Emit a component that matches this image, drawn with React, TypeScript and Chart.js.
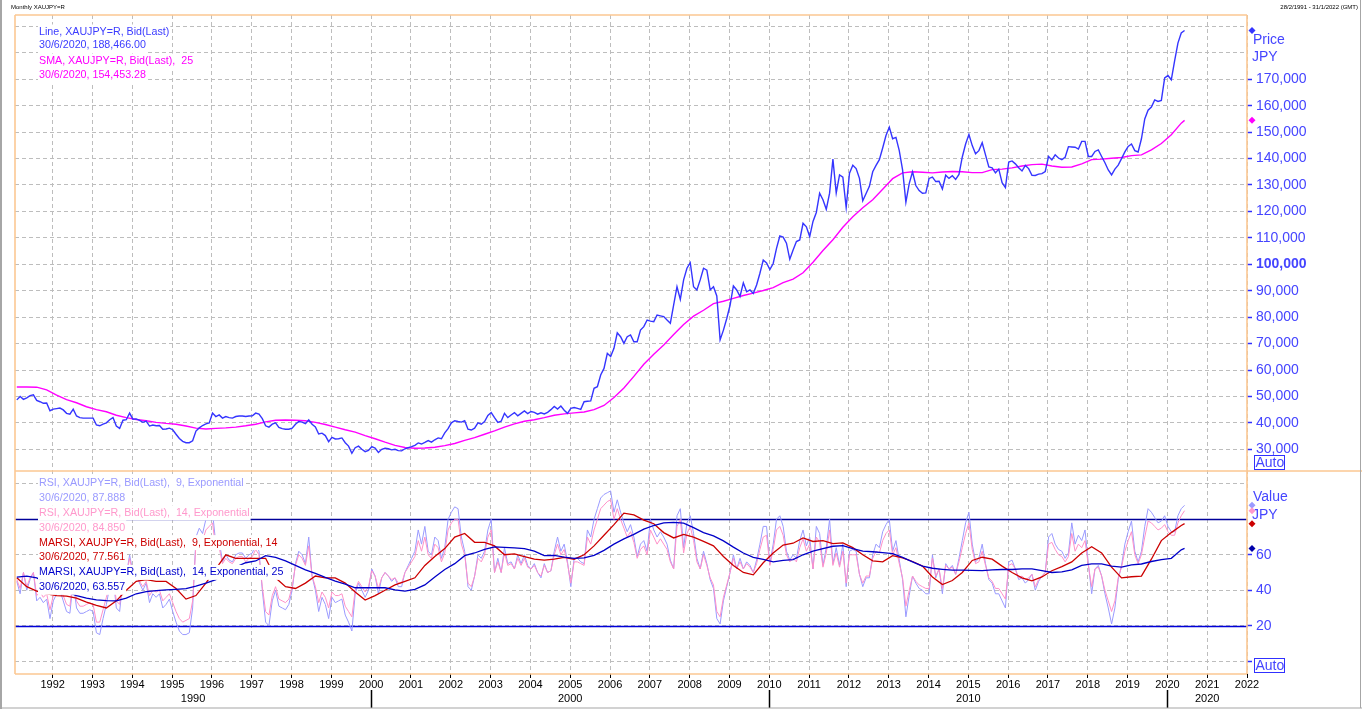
import React, { useEffect, useRef } from 'react';
import { Chart, registerables } from 'chart.js';

Chart.register(...registerables);

const FONT = '"Liberation Sans", Arial, Helvetica, sans-serif';

// ---------- time axis ----------
const firstYear = 1991;
const firstMonth = 2; // first monthly point: Feb 1991
const lastDateLabel = '30/6/2020';
const headerLeft = 'Monthly XAUJPY=R';
const headerRight = '28/2/1991 - 31/1/2022 (GMT)';
const xMin = 1991.053;
const xMax = 2022;
const yearTicks = [1992, 1993, 1994, 1995, 1996, 1997, 1998, 1999, 2000, 2001, 2002, 2003, 2004, 2005, 2006, 2007, 2008, 2009, 2010, 2011, 2012, 2013, 2014, 2015, 2016, 2017, 2018, 2019, 2020, 2021, 2022];
const decadeLabels = [1990, 2000, 2010, 2020];

// ---------- price panel ----------
const priceTicks = [30000, 40000, 50000, 60000, 70000, 80000, 90000, 100000, 110000, 120000, 130000, 140000, 150000, 160000, 170000, 180000, 190000];
const priceLabelMax = 170000;

// monthly close, JPY (Feb 1991 .. Jun 2020)
const priceJPY = [
  48700, 50000, 48900, 49500, 50300, 50600, 48500, 48000, 47400, 47500, 44600,
  45200, 45400, 45600, 44900, 43600, 43300, 45200, 42600, 42000, 41800, 41800, 41800,
  41800, 39200, 38900, 39500, 40000, 41200, 42000, 38800, 37900, 41000, 41200, 43700,
  41400, 41500, 40900, 40200, 40700, 38800, 39200, 38900, 39000, 37600, 37700, 38000,
  37400, 35700, 34100, 33000, 32500, 32500, 33200, 36900, 38100, 39000, 39600, 40000,
  43700, 42400, 43000, 41800, 42400, 42000, 41800, 42400, 42600, 42600, 42400, 42600,
  42700, 43700, 43300, 41600, 38900, 38400, 39500, 40000, 38300, 37800, 37600, 37600,
  38000, 39500, 40500, 40300, 39700, 41100, 39500, 38500, 35800, 36100, 35200, 32900,
  34500, 33900, 34000, 34300, 32500, 31200, 28500, 30600, 31200, 30000, 29100, 29600,
  31000, 30500, 28800, 30000, 30400, 30200, 29800, 30000, 29500, 29400, 30200, 30600,
  31000, 31500, 32400, 32000, 32600, 33300, 32700, 33600, 34300, 34000, 36200, 37800,
  40000, 40800, 40500, 40300, 40800, 37600, 37300, 38000, 40000, 39500, 40500, 42800,
  43900, 42000, 40200, 40600, 43600, 42000, 43000, 43900, 42700, 43600, 44500, 43500,
  44300, 44000, 43300, 43800, 43400, 44000, 45000, 46200, 45200, 46400, 44800, 43600,
  45500, 45800, 45500, 45100, 48000, 48200, 48300, 53100, 53700, 58100, 60600, 66300,
  65100, 68200, 74100, 72600, 70100, 72600, 73300, 70700, 70700, 75100, 76400, 78900,
  78500, 78300, 80800, 80500, 80200, 78900, 77700, 84600, 91500, 86700, 94100, 98500,
  100600, 91500, 90300, 94100, 98500, 97800, 90300, 91500, 88000, 71400, 75100, 79500,
  84500, 91800, 90300, 87800, 93000, 89600, 90300, 89000, 92200, 96600, 101600, 100500,
  98000, 100300, 106000, 110700, 110300, 108000, 101900, 105400, 108600, 109200, 115500, 114200,
  110500, 116200, 119600, 126900, 124400, 120800, 126900, 139800, 127000, 133800, 133000, 121500,
  134500, 137500, 136200, 132500, 124000, 126800, 129500, 135000, 137400, 139600, 144000, 148700,
  151900, 147500, 148000, 143000, 135700, 123500, 130500, 135000, 129800, 127900, 126900, 127000,
  132500, 133000, 131300, 131400, 128500, 133700, 132500, 133500, 132100, 134000, 140600, 145500,
  149100, 144900, 141800, 143000, 146000, 141400, 136800, 136500, 134600, 136000, 130900, 129000,
  138700, 139100, 138000, 136500, 135300, 137400, 136200, 133700, 133600, 134100, 134300, 135100,
  140800, 139500, 141400, 140200, 139600, 140500, 144500, 144400, 144300, 143600, 146500, 146500,
  140800, 140800, 142700, 143300, 140800, 138400, 135700, 133800, 136000, 137500, 140000, 142500,
  144600, 145500, 143000, 142500, 147500, 155000, 158300, 159500, 162200, 161600, 162000, 170500,
  171400, 169800, 177000, 183700, 187500, 188466,
];

// SMA 25, read every third month (Feb/May/Aug/Nov), last value = Jun 2020
const sma25JPY = [
  53600, 53600, 53500, 52500,
  50500, 48800, 47600, 46100,
  45000, 44200, 42900, 42000,
  41300, 40800, 40200, 39800,
  39500, 38800, 38000, 37700,
  37900, 38100, 38400, 38900,
  39500, 40400, 41000, 41100,
  41000, 40800, 40200, 39400,
  38400, 37400, 36500, 35200,
  34000, 32700, 31500, 30700,
  30400, 30500, 30800, 31400,
  32200, 33400, 34400, 35700,
  37000, 38400, 39600, 40600,
  41200, 42000, 42900, 43400,
  43800, 44100, 45000, 46600,
  49600, 53200, 57600, 62200,
  66000, 69500, 73400, 77200,
  80400, 82600, 85100, 86000,
  87100, 88200, 89100, 90100,
  91200, 93100, 94400, 96800,
  100800, 105200, 109300, 114000,
  118000, 121400, 124400, 128400,
  132400, 134600, 135000, 134800,
  134600, 134900, 135100, 135000,
  134700, 134700, 135800, 136000,
  136500, 137200, 137700, 137900,
  137200, 136700, 136800, 138000,
  139600, 139800, 140100, 140400,
  141100, 141400, 143300, 145700,
  149000, 153400, 154453.28,
];

// ---------- RSI panel ----------
const rsiTicks = [0, 20, 40, 60, 80, 100];
const rsiLabelled = [20, 40, 60];
const rsiTickMarks = [0, 20, 40, 60];
const rsiBands = [80, 20];

// RSI 9 exponential, monthly
const rsi9 = [
  45, 38, 50, 40, 46, 50, 34, 36, 33, 35, 24,
  34, 38, 40, 34, 28, 27, 45, 30, 27, 27, 28, 29,
  28, 16, 15, 24, 32, 42, 48, 30, 28, 46, 48, 60,
  50, 49, 44, 40, 44, 33, 38, 36, 38, 30, 32, 35,
  28, 22, 17, 15, 15, 16, 30, 70, 75, 72, 80, 82,
  84, 66, 68, 56, 60, 57, 56, 60, 61, 61, 58, 60,
  61, 66, 62, 40, 22, 20, 34, 40, 31, 30, 29, 32,
  40, 55, 62, 60, 55, 70, 48, 40, 28, 36, 32, 24,
  36, 33, 34, 35, 26, 22, 17, 38, 44, 40, 36, 40,
  52, 48, 38, 47, 50, 48, 45, 47, 42, 42, 50, 54,
  58, 62, 74, 66, 76, 62, 60, 70, 68, 58, 64, 80,
  84, 87, 86, 70, 62, 42, 40, 48, 60, 58, 62, 74,
  80, 50, 58, 50, 64, 55, 56, 52, 60, 55, 60, 54,
  52, 55, 50, 47, 55, 50, 51, 62, 70, 62, 66, 56,
  42, 58, 58, 56, 55, 74, 70, 80, 86, 92, 94, 95,
  96, 84, 91, 84, 78, 73, 77, 70, 59, 66, 68, 62,
  80, 74, 70, 73, 70, 66, 57, 52, 82, 86, 64, 78,
  82, 72, 58, 52, 62, 55, 46, 41, 24, 21, 34, 42,
  50, 60, 52, 58, 52, 56, 54, 50, 57, 66, 76, 76,
  55, 66, 80, 82, 76, 62, 57, 60, 58, 68, 74, 65,
  70, 52, 76, 72, 54, 64, 80, 55, 64, 54, 66, 42,
  62, 63, 62, 49, 42, 47, 47, 60, 66, 64, 73, 77,
  80, 62, 68, 57, 46, 25, 37, 48, 44, 41, 40, 38,
  38, 60, 47, 52, 38, 55, 52, 54, 49, 58, 68, 78,
  84, 66, 56, 58, 66, 55, 46, 44, 38, 38, 34, 30,
  56, 57, 52, 46, 47, 44, 46, 49, 40, 45, 48, 50,
  70, 72, 66, 63, 62, 58, 61, 78, 66, 71, 68, 74,
  55, 38, 52, 54, 48, 38, 30, 21, 30, 46, 54, 66,
  73, 79, 62, 56, 62, 76, 86, 84, 81, 78, 79, 82,
  76, 73, 73, 82, 86, 87.888,
];

// RSI 14 exponential, monthly
const rsi14 = [
  46, 41, 50, 42, 47, 50, 37, 39, 36, 38, 29,
  37, 40, 42, 37, 32, 31, 46, 34, 31, 31, 32, 33,
  32, 22, 22, 29, 36, 43, 48, 34, 32, 46, 48, 58,
  50, 49, 45, 42, 45, 37, 40, 39, 40, 34, 36, 38,
  33, 28, 24, 22, 23, 24, 34, 66, 70, 68, 74, 76,
  78, 63, 64, 55, 58, 56, 55, 58, 59, 59, 56, 58,
  59, 63, 60, 42, 28, 26, 37, 42, 35, 34, 33, 35,
  42, 54, 60, 58, 54, 65, 48, 42, 33, 39, 36, 30,
  39, 37, 37, 38, 31, 28, 25, 40, 45, 42, 39, 42,
  51, 48, 41, 47, 50, 48, 46, 47, 44, 44, 50, 53,
  56, 59, 68, 62, 70, 60, 58, 66, 64, 56, 61, 74,
  78, 80, 80, 66, 60, 44, 42, 48, 58, 56, 60, 70,
  74, 50, 56, 50, 61, 54, 55, 52, 58, 54, 58, 53,
  52, 54, 50, 48, 54, 50, 51, 60, 66, 60, 63, 55,
  44, 56, 56, 55, 54, 70, 66, 74, 80, 86, 88, 90,
  91, 80, 86, 80, 75, 70, 73, 67, 58, 63, 65, 60,
  74, 70, 66, 69, 66, 63, 56, 52, 76, 80, 61, 72,
  76, 68, 56, 52, 60, 54, 47, 43, 28, 25, 36, 43,
  50, 58, 52, 56, 52, 55, 53, 50, 55, 63, 70, 71,
  54, 63, 74, 76, 71, 60, 56, 58, 56, 64, 69, 62,
  66, 52, 70, 67, 53, 61, 74, 54, 61, 53, 62, 44,
  60, 60, 60, 49, 44, 48, 48, 58, 62, 61, 68, 72,
  74, 60, 64, 55, 47, 31, 40, 48, 45, 43, 42, 41,
  41, 58, 48, 52, 41, 54, 52, 53, 49, 56, 64, 72,
  78, 63, 55, 56, 62, 54, 47, 45, 41, 41, 38, 35,
  54, 55, 52, 47, 48, 46, 47, 49, 42, 46, 48, 50,
  66, 67, 63, 60, 59, 56, 59, 72, 62, 66, 64, 68,
  54, 42, 52, 53, 48, 40, 34, 28, 34, 47, 53, 62,
  68, 73, 60, 55, 60, 70, 79, 78, 76, 74, 75, 77,
  73, 71, 71, 78, 82, 84.85,
];

// MARSI 9/14, read every third month (Feb/May/Aug/Nov), last value = Jun 2020
const marsi9 = [
  47, 42, 39.5, 38,
  37, 36.7, 35.5, 33.3,
  31.5, 30, 34, 40,
  45, 46, 45, 45,
  41, 35, 37, 44,
  52, 60, 58, 58,
  58, 58, 47, 42,
  41, 44, 48, 47,
  47, 44, 39, 34.5,
  37, 40, 43, 45,
  47, 54, 59, 63.5,
  70, 72, 67, 67,
  65, 60, 60.5, 59,
  57.5, 57, 57.5, 58.5,
  57.5, 60, 65, 71,
  77, 83.5, 82.5, 79.5,
  77.5, 72.5, 69.5, 71.5,
  70, 67.5, 65, 59,
  54, 50, 48.7, 55.5,
  61, 65.5, 66.5, 69.5,
  67.5, 68, 66.3, 66.7,
  64, 60, 56.6, 56,
  59.5, 58.3, 56.2, 53.6,
  47.5, 43.2, 45.5, 50,
  56.8, 58.6, 57.5, 53.6,
  50, 47, 45.3, 47.5,
  51, 53.3, 56, 61,
  64.5, 61, 53, 47,
  47.6, 48, 57.5, 68,
  72.5, 76.5, 77.561,
];

const marsi14 = [
  47.4, 48, 47, 44,
  41, 39, 37, 35.5,
  34.6, 34.1, 34, 35.5,
  38, 39.2, 39.8, 40.2,
  40.5, 40.9, 42.3, 44,
  46, 50, 53, 55.5,
  56.5, 59.5, 58.5, 56.5,
  54, 51.5, 49.5, 47.2,
  45.2, 43.5, 41.4, 41.4,
  41.4, 41.4, 40.2, 39.5,
  40.5, 43, 47.5, 51.7,
  55, 59.5, 61, 63,
  64.5, 64.2, 63.9, 63.5,
  62, 59.5, 59.6, 58.7,
  58, 58.2, 59.7, 62.5,
  66, 69, 71.5, 74.5,
  76.5, 78, 78.3, 77.8,
  75.3, 72.5, 70.6, 67.8,
  64.3, 61, 58.5, 57.4,
  56, 56.8, 57.3, 60,
  62, 63.5, 64.8, 65.2,
  63.5, 62, 61.7, 61.2,
  60.7, 58.5, 56, 53.6,
  52.4, 51.8, 51.3, 51.3,
  51.2, 51.1, 51.5, 51.7,
  51.7, 52.1, 52, 51,
  50, 50.3, 51.5, 54,
  54.9, 54.9, 53.6, 53,
  54.3, 54.8, 56.2, 57.3,
  58, 62.8, 63.557,
];

// ---------- colours ----------
const C_PRICE = '#3535ff';
const C_SMA = '#ff00ff';
const C_RSI9 = '#9a9aff';
const C_RSI14 = '#ff90c8';
const C_MARSI9 = '#cc0000';
const C_MARSI14 = '#0000c8';
const C_AXIS = '#4545ff';
const C_GRID = '#bdbdbd';
const C_FRAME = '#fcc893';

const monthX = (i: number) => firstYear + (firstMonth - 1 + i) / 12 + 0.015;
const lastIdx = priceJPY.length - 1;
const quarterX = (i: number) => monthX(Math.min(i * 3, lastIdx));
const monthly = (arr: number[]) => arr.map((v, i) => ({ x: monthX(i), y: v }));
const quarterly = (arr: number[]) => arr.map((v, i) => ({ x: quarterX(i), y: v }));
const last = (a: number[]) => a[a.length - 1];
const fmt2 = (v: number) => v.toLocaleString('en-US', { minimumFractionDigits: 2, maximumFractionDigits: 2 });

const topLegend = [
  { text: 'Line, XAUJPY=R, Bid(Last)', color: '#3c3cff', y: 32 },
  { text: `${lastDateLabel}, ${fmt2(last(priceJPY))}`, color: '#3c3cff', y: 45.5 },
  { text: 'SMA, XAUJPY=R, Bid(Last),  25', color: '#ff00ff', y: 61 },
  { text: `${lastDateLabel}, ${fmt2(last(sma25JPY))}`, color: '#ff00ff', y: 75 },
];
const lowLegend = [
  { text: 'RSI, XAUJPY=R, Bid(Last),  9, Exponential', color: '#9a9aff' },
  { text: `${lastDateLabel}, ${last(rsi9).toFixed(3)}`, color: '#9a9aff' },
  { text: 'RSI, XAUJPY=R, Bid(Last),  14, Exponential', color: '#ff99cc' },
  { text: `${lastDateLabel}, ${last(rsi14).toFixed(3)}`, color: '#ff99cc' },
  { text: 'MARSI, XAUJPY=R, Bid(Last),  9, Exponential, 14', color: '#cc0000' },
  { text: `${lastDateLabel}, ${last(marsi9).toFixed(3)}`, color: '#cc0000' },
  { text: 'MARSI, XAUJPY=R, Bid(Last),  14, Exponential, 25', color: '#0000cc' },
  { text: `${lastDateLabel}, ${last(marsi14).toFixed(3)}`, color: '#0000cc' },
];

function drawLegend(ctx: CanvasRenderingContext2D, x: number, rows: { text: string; color: string; y: number }[]) {
  ctx.font = `10.7px ${FONT}`;
  ctx.textBaseline = 'middle';
  ctx.textAlign = 'left';
  ctx.fillStyle = '#ffffff';
  for (const r of rows) {
    const w = ctx.measureText(r.text).width;
    ctx.fillRect(x - 1, r.y - 7.5, w + 2, 15);
  }
  for (const r of rows) {
    ctx.fillStyle = r.color;
    ctx.fillText(r.text, x, r.y);
  }
}

function diamond(ctx: CanvasRenderingContext2D, x: number, y: number, color: string) {
  ctx.fillStyle = color;
  ctx.beginPath();
  ctx.moveTo(x, y - 3.5);
  ctx.lineTo(x + 3.5, y);
  ctx.lineTo(x, y + 3.5);
  ctx.lineTo(x - 3.5, y);
  ctx.closePath();
  ctx.fill();
}

const overlayPlugin = {
  id: 'overlay',
  beforeDatasetsDraw(chart: any) {
    const { ctx, chartArea } = chart;
    const r = chart.scales.y2;
    ctx.save();
    ctx.lineWidth = 1.3;
    rsiBands.forEach((v, i) => {
      const y = Math.round(r.getPixelForValue(v)) + 0.5;
      ctx.strokeStyle = i === 0 ? '#00009a' : '#0000d8';
      ctx.beginPath();
      ctx.moveTo(chartArea.left, y);
      ctx.lineTo(chartArea.right, y);
      ctx.stroke();
    });
    ctx.restore();
  },
  afterDatasetsDraw(chart: any) {
    const { ctx, chartArea, width, height } = chart;
    const xs = chart.scales.x;
    const ys = chart.scales.y;
    const rs = chart.scales.y2;
    ctx.save();

    // legends with white backgrounds
    drawLegend(ctx, 39, topLegend);
    drawLegend(ctx, 39, lowLegend.map((r, i) => ({ ...r, y: 483 + i * 14.9 })));

    // orange panel frames
    ctx.strokeStyle = C_FRAME;
    ctx.lineWidth = 1.6;
    ctx.beginPath();
    ctx.moveTo(chartArea.left, chartArea.top);
    ctx.lineTo(chartArea.right, chartArea.top);
    ctx.moveTo(chartArea.left, chartArea.top);
    ctx.lineTo(chartArea.left, chartArea.bottom);
    ctx.moveTo(chartArea.right, chartArea.top);
    ctx.lineTo(chartArea.right, chartArea.bottom);
    ctx.moveTo(chartArea.left, chartArea.bottom);
    ctx.lineTo(chartArea.right, chartArea.bottom);
    ctx.moveTo(chartArea.left, ys.bottom);
    ctx.lineTo(width, ys.bottom);
    ctx.stroke();

    // last-value diamonds
    const dx = chartArea.right + 5;
    diamond(ctx, dx, ys.getPixelForValue(last(priceJPY)), '#3535ff');
    diamond(ctx, dx, ys.getPixelForValue(last(sma25JPY)), '#ff00ff');
    diamond(ctx, dx, rs.getPixelForValue(last(rsi9)), '#9a9aff');
    diamond(ctx, dx, rs.getPixelForValue(last(rsi14)), '#ff99cc');
    diamond(ctx, dx, rs.getPixelForValue(last(marsi9)), '#cc0000');
    diamond(ctx, dx, rs.getPixelForValue(last(marsi14)), '#0000aa');

    // axis titles
    ctx.font = `14px ${FONT}`;
    ctx.fillStyle = C_AXIS;
    ctx.textAlign = 'left';
    ctx.textBaseline = 'middle';
    ctx.fillText('Price', chartArea.right + 6, 40);
    ctx.fillText('JPY', chartArea.right + 5, 57.5);
    ctx.fillText('Value', chartArea.right + 6, 497);
    ctx.fillText('JPY', chartArea.right + 5, 515);

    // Auto boxes
    const autoBox = (yTop: number) => {
      ctx.strokeStyle = '#3030ff';
      ctx.lineWidth = 1;
      ctx.strokeRect(chartArea.right + 7.5, yTop + 0.5, 30, 14);
      ctx.fillStyle = C_AXIS;
      ctx.fillText('Auto', chartArea.right + 8.5, yTop + 8);
    };
    autoBox(ys.bottom - 16);
    autoBox(rs.bottom - 16);

    // header
    ctx.font = `6px ${FONT}`;
    ctx.fillStyle = '#000';
    ctx.textAlign = 'left';
    ctx.fillText(headerLeft, 11, 7);
    ctx.textAlign = 'right';
    ctx.fillText(headerRight, 1358, 7);

    // decade labels and long separators
    ctx.font = `11px ${FONT}`;
    ctx.textAlign = 'center';
    ctx.fillStyle = '#000';
    decadeLabels.forEach((d) => {
      const a = Math.max(d, xs.min);
      const b = Math.min(d + 10, xs.max);
      const xa = xs.getPixelForValue(a);
      const xb = xs.getPixelForValue(b);
      ctx.fillText(String(d), (xa + xb) / 2, 699);
      if (d > xs.min) {
        const x = Math.round(xa) + 0.5;
        ctx.strokeStyle = '#000';
        ctx.lineWidth = 1.5;
        ctx.beginPath();
        ctx.moveTo(x, 690);
        ctx.lineTo(x, 708);
        ctx.stroke();
      }
    });

    // window border
    ctx.fillStyle = '#a6a6a6';
    ctx.fillRect(0, 0, 2, height - 1);
    ctx.fillRect(0, height - 2.5, width, 1);
    ctx.fillRect(width - 2, 0, 1, height - 2);

    ctx.restore();
  },
};

export default function App() {
  const ref = useRef<HTMLCanvasElement>(null);

  useEffect(() => {
    const canvas = ref.current;
    if (!canvas) return;
    const dash = [4, 3];
    const chart = new Chart(canvas, {
      type: 'line',
      data: {
        datasets: [
          { label: 'Line', data: monthly(priceJPY), yAxisID: 'y', borderColor: C_PRICE, borderWidth: 1.4, pointRadius: 0, tension: 0 },
          { label: 'SMA 25', data: quarterly(sma25JPY), yAxisID: 'y', borderColor: C_SMA, borderWidth: 1.4, pointRadius: 0, tension: 0 },
          { label: 'MARSI 14', data: quarterly(marsi14), yAxisID: 'y2', borderColor: C_MARSI14, borderWidth: 1.3, pointRadius: 0, tension: 0 },
          { label: 'MARSI 9', data: quarterly(marsi9), yAxisID: 'y2', borderColor: C_MARSI9, borderWidth: 1.3, pointRadius: 0, tension: 0 },
          { label: 'RSI 14', data: monthly(rsi14), yAxisID: 'y2', borderColor: C_RSI14, borderWidth: 1, pointRadius: 0, tension: 0 },
          { label: 'RSI 9', data: monthly(rsi9), yAxisID: 'y2', borderColor: C_RSI9, borderWidth: 1, pointRadius: 0, tension: 0 },
        ] as any,
      },
      options: {
        animation: false,
        responsive: false,
        events: [],
        layout: { padding: { left: 15, top: 15, right: 0, bottom: 0 } },
        plugins: { legend: { display: false }, tooltip: { enabled: false } },
        scales: {
          x: {
            type: 'linear',
            axis: 'x',
            position: 'bottom',
            min: xMin,
            max: xMax,
            afterBuildTicks: (s: any) => { s.ticks = yearTicks.map((v) => ({ value: v })); },
            afterFit: (s: any) => { s.height = 36; },
            grid: { color: C_GRID, lineWidth: 1, tickColor: '#000', tickLength: 4, tickWidth: 1 },
            border: { display: false, dash },
            ticks: {
              autoSkip: false,
              maxRotation: 0,
              padding: 0,
              color: '#000',
              font: { family: FONT, size: 11 },
              callback: (v: any) => String(v),
            },
          },
          y: {
            type: 'linear',
            axis: 'y',
            position: 'right',
            stack: 'panels',
            stackWeight: 456,
            min: 21790,
            max: 194320,
            afterBuildTicks: (s: any) => { s.ticks = priceTicks.map((v) => ({ value: v })); },
            afterFit: (s: any) => { s.width = 115; },
            grid: {
              color: C_GRID,
              lineWidth: 1,
              tickLength: 5,
              tickWidth: 1.5,
              tickColor: (c: any) => (c.tick && c.tick.value > priceLabelMax ? 'rgba(0,0,0,0)' : '#3030ff'),
            },
            border: { display: false, dash },
            ticks: {
              autoSkip: false,
              padding: 4,
              color: C_AXIS,
              font: (c: any) => ({ family: FONT, size: 14, weight: c.tick && c.tick.value === 100000 ? 'bold' : 'normal' }),
              callback: (v: any) => (v > priceLabelMax ? '' : Number(v).toLocaleString('en-US')),
            },
          },
          y2: {
            type: 'linear',
            axis: 'y',
            position: 'right',
            stack: 'panels',
            stackWeight: 203,
            min: -7.24,
            max: 107.24,
            afterBuildTicks: (s: any) => { s.ticks = rsiTicks.map((v) => ({ value: v })); },
            afterFit: (s: any) => { s.width = 115; },
            grid: {
              color: C_GRID,
              lineWidth: 1,
              tickLength: 5,
              tickWidth: 1.5,
              tickColor: (c: any) => (c.tick && rsiTickMarks.includes(c.tick.value) ? '#3030ff' : 'rgba(0,0,0,0)'),
            },
            border: { display: false, dash },
            ticks: {
              autoSkip: false,
              padding: 4,
              color: C_AXIS,
              font: { family: FONT, size: 14 },
              callback: (v: any) => (rsiLabelled.includes(Number(v)) ? String(v) : ''),
            },
          },
        },
      } as any,
      plugins: [overlayPlugin as any],
    });
    return () => chart.destroy();
  }, []);

  return (
    <div style={{ position: 'fixed', left: 0, top: 0, width: 1362, height: 710, background: '#ffffff' }}>
      <canvas ref={ref} width={1362} height={710} style={{ display: 'block', width: 1362, height: 710 }} />
    </div>
  );
}
